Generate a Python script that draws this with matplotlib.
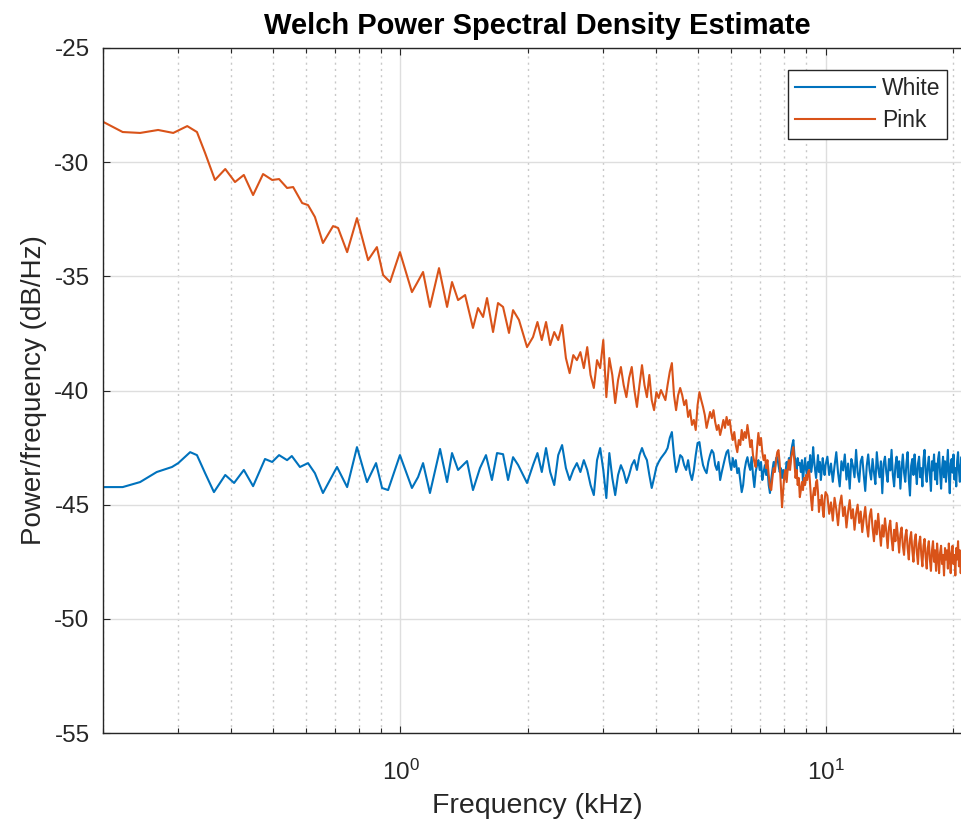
import matplotlib
matplotlib.use("Agg")
import matplotlib.pyplot as plt
from matplotlib.ticker import LogLocator, NullFormatter

plt.rcParams['font.family'] = ['Liberation Sans', 'DejaVu Sans']
plt.rcParams['mathtext.fontset'] = 'custom'
plt.rcParams['mathtext.rm'] = 'Liberation Sans'
plt.rcParams['axes.unicode_minus'] = False

# ---------------- data (kHz, dB/Hz) ----------------
title = "Welch Power Spectral Density Estimate"
xlabel = "Frequency (kHz)"
ylabel = "Power/frequency (dB/Hz)"
series_names = ["White", "Pink"]

white_lo_f = [0.200, 0.222, 0.244, 0.267, 0.290, 0.300, 0.320, 0.332, 0.347, 0.364,
              0.387, 0.406, 0.428, 0.450, 0.480, 0.499, 0.518, 0.541, 0.555, 0.580,
              0.606, 0.629, 0.657, 0.709, 0.749, 0.790, 0.834, 0.876, 0.905, 0.935,
              0.997, 1.064, 1.100, 1.130, 1.173, 1.239, 1.287, 1.322, 1.366, 1.434,
              1.481, 1.538, 1.589, 1.641, 1.687, 1.743, 1.791, 1.840, 1.891, 1.985]
white_lo_db = [-44.23, -44.23, -44.01, -43.57, -43.35, -43.18, -42.70, -42.83, -43.62, -44.45,
               -43.70, -44.05, -43.48, -44.19, -43.00, -43.13, -42.83, -43.05, -42.87, -43.35,
               -43.18, -43.62, -44.49, -43.35, -44.23, -42.48, -44.01, -43.18, -44.27, -44.36,
               -42.83, -44.27, -43.79, -43.18, -44.49, -42.56, -44.01, -42.74, -43.48, -43.09,
               -44.36, -43.40, -42.83, -43.92, -42.74, -42.79, -43.92, -42.92, -43.26, -44.05]

pink_lo_f = [0.200, 0.222, 0.244, 0.269, 0.292, 0.315, 0.332, 0.347, 0.366, 0.387,
             0.408, 0.428, 0.450, 0.475, 0.499, 0.518, 0.541, 0.559, 0.587, 0.606,
             0.629, 0.657, 0.694, 0.713, 0.749, 0.790, 0.839, 0.880, 0.910, 0.945,
             0.997, 1.064, 1.094, 1.130, 1.173, 1.232, 1.287, 1.322, 1.366, 1.419,
             1.481, 1.522, 1.564, 1.598, 1.651, 1.696, 1.743, 1.800, 1.840, 1.900,
             1.985]
pink_lo_db = [-28.24, -28.68, -28.72, -28.59, -28.72, -28.42, -28.68, -29.60, -30.78, -30.30,
              -30.87, -30.56, -31.44, -30.52, -30.78, -30.74, -31.13, -31.09, -31.79, -31.88,
              -32.40, -33.54, -32.80, -32.88, -33.94, -32.45, -34.29, -33.72, -34.94, -35.25,
              -33.94, -35.69, -35.29, -34.81, -36.34, -34.64, -36.34, -35.25, -36.04, -35.82,
              -37.26, -36.39, -36.78, -35.95, -37.44, -36.17, -36.34, -37.48, -36.48, -36.91,
              -38.10]

# shared frequency bins above 2 kHz
hi_f_a = [2.05, 2.10, 2.15, 2.20, 2.25, 2.30, 2.35, 2.40, 2.45, 2.50,
          2.55, 2.60, 2.65, 2.70, 2.75, 2.80, 2.85, 2.90, 2.95, 3.00,
          3.05, 3.10, 3.15, 3.20, 3.25, 3.30, 3.35, 3.40, 3.45, 3.50,
          3.55, 3.60, 3.65, 3.70, 3.75, 3.80, 3.85, 3.90, 3.95, 4.00,
          4.05, 4.10, 4.15, 4.20, 4.25, 4.30, 4.35, 4.40, 4.45, 4.50,
          4.55, 4.60, 4.65, 4.70, 4.75, 4.80, 4.85, 4.90, 4.95, 5.00]
hi_f_b = [5.05, 5.10, 5.15, 5.20, 5.25, 5.30, 5.35, 5.40, 5.45, 5.50,
          5.55, 5.60, 5.65, 5.70, 5.75, 5.80, 5.85, 5.90, 5.95, 6.00,
          6.05, 6.10, 6.15, 6.20, 6.25, 6.30, 6.35, 6.40, 6.45, 6.50,
          6.55, 6.60, 6.65, 6.70, 6.75, 6.80, 6.85, 6.90, 6.95, 7.00,
          7.05, 7.10, 7.15, 7.20, 7.25, 7.30, 7.35, 7.40, 7.45, 7.50,
          7.55, 7.60, 7.65, 7.70, 7.75, 7.80, 7.85, 7.90, 7.95, 8.00,
          8.05, 8.10, 8.15, 8.20, 8.25, 8.30, 8.35, 8.40, 8.45, 8.50,
          8.55, 8.60, 8.65, 8.70, 8.75, 8.80, 8.85, 8.90, 8.95, 9.00,
          9.05, 9.10, 9.15, 9.20, 9.25, 9.30, 9.35, 9.40, 9.45, 9.50,
          9.55, 9.60, 9.65, 9.70, 9.75, 9.80, 9.85, 9.90, 9.95, 10.00]
hi_f_c = [10.1, 10.2, 10.3, 10.4, 10.5, 10.6, 10.7, 10.8, 10.9, 11.0,
          11.1, 11.2, 11.3, 11.4, 11.5, 11.6, 11.7, 11.8, 11.9, 12.0,
          12.1, 12.2, 12.3, 12.4, 12.5, 12.6, 12.7, 12.8, 12.9, 13.0,
          13.1, 13.2, 13.3, 13.4, 13.5, 13.6, 13.7, 13.8, 13.9, 14.0,
          14.1, 14.2, 14.3, 14.4, 14.5, 14.6, 14.7, 14.8, 14.9, 15.0,
          15.1, 15.2, 15.3, 15.4, 15.5, 15.6, 15.7, 15.8, 15.9, 16.0,
          16.1, 16.2, 16.3, 16.4, 16.5, 16.6, 16.7, 16.8, 16.9, 17.0,
          17.1, 17.2, 17.3, 17.4, 17.5, 17.6, 17.7, 17.8, 17.9, 18.0,
          18.1, 18.2, 18.3, 18.4, 18.5, 18.6, 18.7, 18.8, 18.9, 19.0,
          19.1, 19.2, 19.3, 19.4, 19.5, 19.6, 19.7, 19.8, 19.9, 20.0,
          20.1, 20.2, 20.3, 20.4, 20.5, 20.6, 20.7, 20.8, 20.9, 21.0,
          21.1, 21.2, 21.3, 21.4, 21.5, 21.6, 21.7, 21.8, 21.9, 22.0]

white_hi_db_a = [-43.27, -42.74, -43.57, -42.52, -43.57, -44.14, -42.83, -42.39, -43.40, -43.92,
                 -43.48, -43.18, -43.57, -43.05, -43.48, -44.14, -44.58, -43.05, -42.52, -43.48,
                 -44.71, -42.74, -43.83, -44.58, -43.70, -43.27, -43.57, -44.05, -43.70, -43.27,
                 -43.05, -43.48, -42.83, -42.52, -42.83, -43.05, -43.70, -44.27, -43.83, -43.35,
                 -43.13, -42.96, -42.83, -42.70, -42.52, -42.08, -41.82, -42.83, -43.57, -43.27,
                 -42.83, -42.92, -43.27, -43.48, -43.05, -43.62, -43.92, -43.48, -42.83, -42.30]
white_hi_db_b = [-42.26, -42.83, -43.27, -43.48, -43.62, -43.13, -42.83, -42.61, -42.74, -43.27,
                 -43.48, -43.13, -43.92, -43.57, -43.27, -42.96, -42.70, -42.61, -43.13, -43.48,
                 -42.96, -43.35, -43.05, -43.62, -43.40, -43.92, -44.45, -44.14, -43.48, -43.13,
                 -42.92, -43.27, -43.48, -42.92, -43.70, -44.23, -43.57, -43.27, -43.05, -43.48,
                 -43.13, -43.92, -43.57, -43.27, -43.70, -43.40, -44.14, -44.49, -43.92, -43.48,
                 -43.13, -43.40, -42.96, -42.92, -43.27, -43.57, -43.40, -43.83, -43.48, -43.92,
                 -43.57, -43.13, -43.48, -42.96, -43.27, -42.70, -42.39, -42.17, -42.83, -43.13,
                 -43.48, -42.96, -43.27, -43.18, -43.57, -43.05, -44.01, -43.40, -42.96, -43.48,
                 -43.75, -43.13, -43.40, -42.83, -43.57, -43.27, -42.48, -43.05, -43.48, -43.83,
                 -43.31, -42.83, -43.57, -43.13, -43.92, -43.48, -42.96, -43.40, -43.70, -43.27]
white_hi_db_c = [-42.9, -43.7, -43.2, -44.0, -43.3, -42.7, -43.6, -44.2, -43.1, -43.5,
                 -42.8, -43.9, -43.2, -44.3, -43.0, -43.3, -43.8, -42.6, -43.6, -44.0,
                 -43.1, -42.9, -43.7, -44.4, -43.3, -42.8, -43.5, -43.9, -43.0, -43.6,
                 -44.1, -42.7, -43.4, -43.8, -43.1, -44.5, -43.2, -42.9, -43.6, -44.0,
                 -43.0, -43.5, -42.6, -43.7, -44.2, -43.3, -42.9, -43.8, -43.1, -44.3,
                 -43.4, -42.8, -43.6, -44.0, -43.2, -42.7, -43.9, -44.6, -43.3, -43.0,
                 -43.7, -42.8, -43.5, -44.1, -43.2, -42.9, -43.8, -43.4, -44.2, -43.0,
                 -42.6, -43.6, -44.0, -43.3, -42.9, -43.7, -44.4, -43.1, -43.5, -42.8,
                 -43.9, -43.2, -44.1, -43.0, -42.7, -43.6, -44.3, -43.4, -42.9, -43.8,
                 -43.1, -44.0, -43.3, -42.6, -43.7, -44.5, -43.2, -43.0, -43.6, -42.8,
                 -43.9, -43.4, -44.2, -43.1, -42.7, -43.5, -44.0, -43.3, -42.9, -43.8,
                 -44.4, -43.2, -43.0, -43.7, -42.8, -43.5, -44.1, -43.3, -42.9, -43.6]

pink_hi_db_a = [-37.66, -37.00, -37.79, -37.00, -38.01, -37.44, -37.79, -37.13, -38.58, -39.24,
                -38.45, -38.67, -38.32, -39.02, -38.10, -39.32, -39.89, -38.67, -39.02, -37.79,
                -40.29, -38.58, -39.32, -40.55, -39.54, -38.97, -39.76, -40.29, -39.45, -38.97,
                -39.98, -40.72, -39.76, -38.89, -39.76, -40.29, -39.32, -40.42, -40.86, -40.07,
                -40.33, -39.98, -40.20, -40.42, -39.76, -39.19, -38.80, -40.20, -40.86, -40.20,
                -39.89, -40.20, -40.64, -40.42, -41.16, -40.86, -41.51, -41.29, -41.73, -40.64]
pink_hi_db_b = [-40.07, -40.42, -40.72, -41.08, -41.64, -41.29, -40.94, -41.21, -40.86, -41.38,
                -41.73, -41.51, -41.95, -41.64, -41.29, -41.64, -41.16, -41.51, -41.29, -41.82,
                -42.17, -41.82, -42.39, -42.70, -42.17, -42.39, -41.73, -42.17, -41.82, -42.08,
                -41.51, -41.95, -42.48, -42.17, -42.83, -43.13, -43.35, -42.52, -41.86, -42.39,
                -42.08, -42.70, -43.05, -42.83, -43.40, -43.05, -43.70, -44.23, -44.36, -43.83,
                -43.40, -43.57, -43.05, -42.70, -42.61, -43.18, -44.14, -45.11, -44.36, -43.70,
                -43.48, -44.01, -43.40, -43.05, -43.48, -42.96, -42.70, -42.48, -43.13, -43.83,
                -43.48, -44.14, -43.83, -44.67, -44.36, -44.01, -44.36, -43.83, -44.14, -43.70,
                -43.92, -43.57, -43.48, -44.14, -44.80, -45.24, -44.58, -44.27, -44.58, -44.01,
                -43.92, -44.45, -45.32, -44.80, -45.02, -44.58, -45.24, -45.54, -44.80, -44.45]
pink_hi_db_c = [-44.6, -45.4, -44.9, -45.7, -44.7, -45.2, -45.9, -45.0, -44.6, -45.5,
                -45.1, -46.0, -45.3, -44.8, -45.6, -45.2, -46.1, -45.4, -45.0, -45.8,
                -45.3, -46.2, -45.6, -45.1, -45.9, -46.4, -45.5, -45.2, -46.0, -46.6,
                -45.7, -46.3, -45.4, -46.1, -46.8, -45.9, -46.4, -45.6, -46.2, -46.9,
                -46.0, -45.7, -46.5, -47.0, -46.1, -46.6, -45.8, -46.4, -47.1, -46.3,
                -46.0, -46.8, -47.2, -46.4, -46.1, -46.9, -47.4, -46.5, -46.2, -47.0,
                -47.5, -46.6, -46.3, -47.1, -47.6, -46.7, -46.4, -47.2, -47.7, -46.8,
                -46.5, -47.3, -47.8, -46.9, -46.6, -47.4, -47.9, -47.0, -46.6, -47.5,
                -47.0, -47.9, -46.7, -47.3, -48.0, -47.1, -46.8, -47.6, -47.2, -48.1,
                -46.9, -47.4, -47.0, -47.8, -46.7, -47.3, -48.0, -47.1, -46.8, -47.6,
                -47.2, -48.1, -46.9, -47.4, -46.6, -47.7, -47.0, -48.0, -47.2, -46.7,
                -47.5, -46.9, -47.9, -47.1, -46.6, -47.4, -47.8, -46.9, -47.3, -47.0]

y_ticks = [-55, -50, -45, -40, -35, -30, -25]
x_limits = [0.2, 22.05]
y_limits = [-55, -25]

# ---------------- assemble ----------------
hi_f = hi_f_a + hi_f_b + hi_f_c
white_f = white_lo_f + hi_f
white_db = white_lo_db + white_hi_db_a + white_hi_db_b + white_hi_db_c
pink_f = pink_lo_f + hi_f
pink_db = pink_lo_db + pink_hi_db_a + pink_hi_db_b + pink_hi_db_c

TXT = '#262626'
C_WHITE = '#0072BD'
C_PINK = '#D95319'

fig = plt.figure(figsize=(9.61, 8.25), dpi=100)
ax = fig.add_axes([103.4 / 961, 92 / 825, (971.5 - 103.4) / 961, 685 / 825])

ax.plot(white_f, white_db, color=C_WHITE, lw=1.5, label=series_names[0],
        solid_joinstyle='round')
ax.plot(pink_f, pink_db, color=C_PINK, lw=1.5, label=series_names[1],
        solid_joinstyle='round')

ax.set_xscale('log')
ax.set_xlim(*x_limits)
ax.set_ylim(*y_limits)
ax.set_yticks(y_ticks)
ax.xaxis.set_minor_locator(LogLocator(base=10, subs=[2, 3, 4, 5, 6, 7, 8, 9], numticks=20))
ax.xaxis.set_minor_formatter(NullFormatter())

ax.grid(True, which='major', axis='both', color='#dedede', lw=1.0, ls='-')
ax.grid(True, which='minor', axis='x', color='#c8c8c8', lw=1.0, ls=(0, (1.5, 3)))
ax.set_axisbelow(True)

for side in ['left', 'bottom', 'top']:
    ax.spines[side].set_color(TXT)
    ax.spines[side].set_linewidth(1.0)
ax.spines['right'].set_visible(False)

ax.tick_params(which='major', direction='in', length=5, width=0.8, color=TXT,
               labelcolor=TXT, labelsize=17.5, top=True, right=False)
ax.tick_params(which='minor', direction='in', length=3.5, width=0.8, color=TXT,
               top=True, right=False)
ax.tick_params(axis='x', which='major', pad=19)
ax.tick_params(axis='y', which='major', pad=10)

ax.set_title(title, fontsize=21, fontweight='bold', color='black', pad=10)
ax.set_xlabel(xlabel, fontsize=20.5, color=TXT, labelpad=6)
ax.set_ylabel(ylabel, fontsize=20, color=TXT, labelpad=5)

leg = ax.legend(loc='upper right', bbox_to_anchor=(947 / 961, 1 - 70 / 825),
                bbox_transform=fig.transFigure, borderaxespad=0, fontsize=16.5,
                frameon=True, fancybox=False, framealpha=1, edgecolor=TXT,
                handlelength=3.5, labelspacing=0.4, borderpad=0.3, handletextpad=0.3)
leg.get_frame().set_linewidth(1.0)
for t in leg.get_texts():
    t.set_color(TXT)

fig.savefig('out.png', dpi=100)
